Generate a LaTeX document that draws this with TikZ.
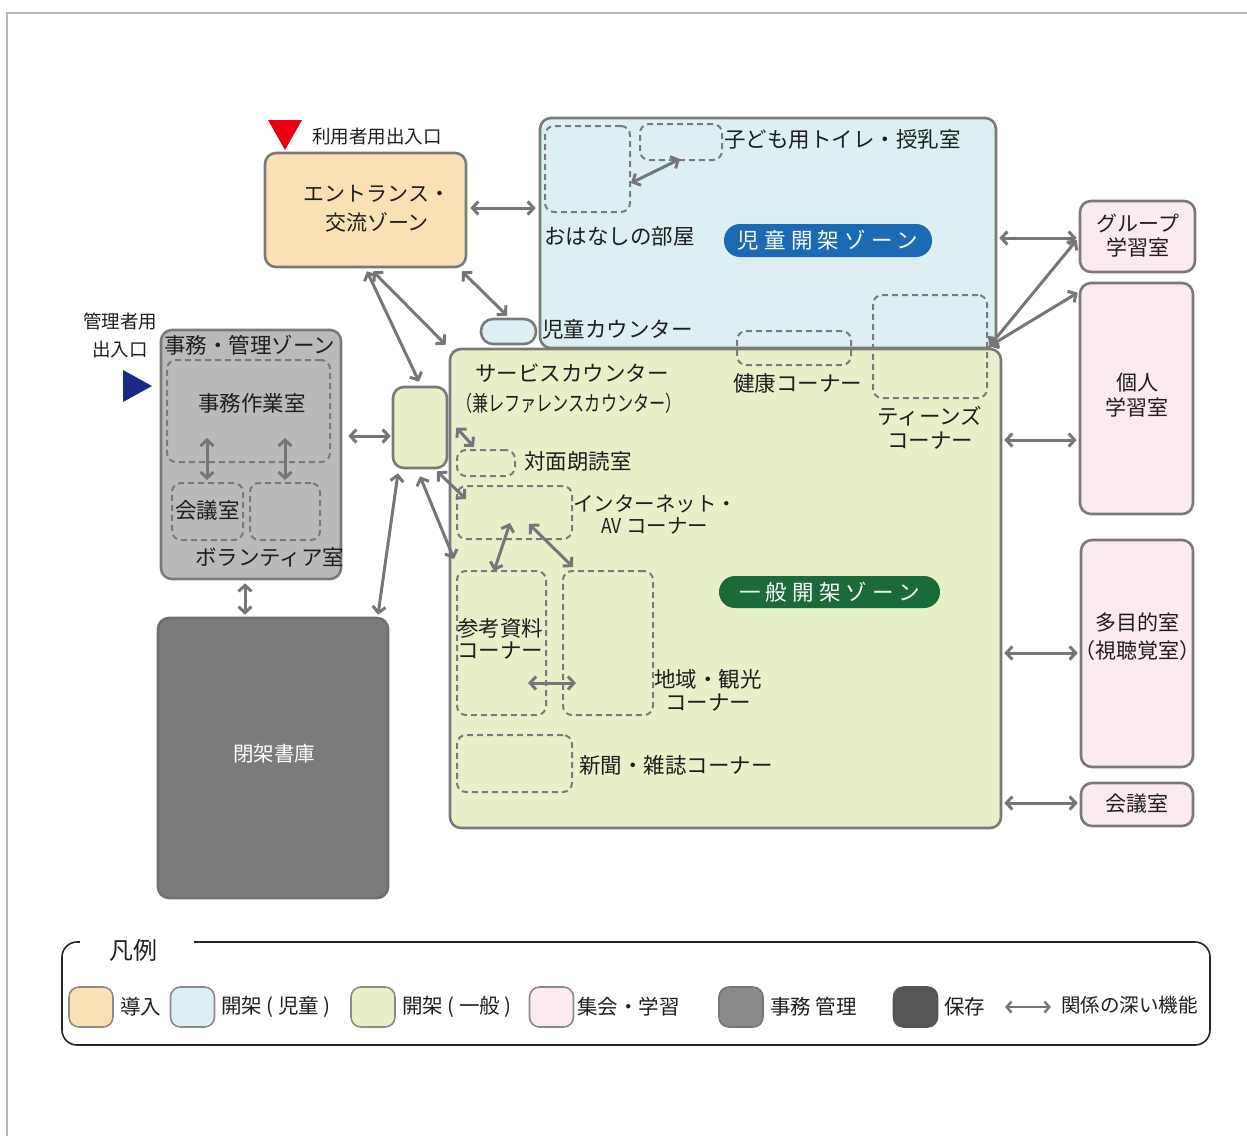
\documentclass[tikz,border=0pt]{standalone}
\usepackage{fontspec}
\setmainfont{Noto Sans CJK JP}
\usetikzlibrary{arrows.meta,calc}
\definecolor{peach}{HTML}{FAE1B5}
\definecolor{kidblue}{HTML}{DDEFF3}
\definecolor{genlime}{HTML}{E8F0CA}
\definecolor{pinkish}{HTML}{FCEAF1}
\definecolor{offgray}{HTML}{BABABA}
\definecolor{stkgray}{HTML}{7B7B7B}
\definecolor{bordergray}{HTML}{7A7A7A}
\definecolor{arrgray}{HTML}{767676}
\definecolor{pillblue}{HTML}{1A6AB4}
\definecolor{pillgreen}{HTML}{1B6B38}
\definecolor{navytri}{HTML}{1C2A85}
\definecolor{redtri}{HTML}{E60012}
\definecolor{txt}{HTML}{1E1E1E}
\definecolor{legmid}{HTML}{8A8A8A}
\definecolor{legdark}{HTML}{555555}
\newcommand\fsz[2]{\fontsize{#1pt}{#2pt}\selectfont}
\tikzset{
  zone/.style={draw=bordergray, line width=2.6pt, rounded corners=11pt, inner sep=0pt},
  dbox/.style={draw=bordergray, line width=2pt, dash pattern=on 6pt off 4pt, rounded corners=9pt, inner sep=0pt},
  arr/.style={draw=arrgray, line width=3pt, {Straight Barb[length=6pt,width=13pt]}-{Straight Barb[length=6pt,width=13pt]}},
  lbl/.style={text=txt, inner sep=0pt, font=\fsz{21.5}{25}},
  pill/.style={rounded corners=16pt, inner sep=0pt, text=white, font=\fsz{21.5}{25}\addfontfeature{LetterSpace=24}},
  swatch/.style={draw=legmid, line width=1.6pt, rounded corners=10pt, minimum width=44, minimum height=40, inner sep=0pt},
  leg/.style={text=txt, inner sep=0pt, anchor=west, font=\fsz{20.5}{24}},
}
\begin{document}
\begin{tikzpicture}[x=1pt,y=-1pt]
\useasboundingbox (0,0) rectangle (1247,1136);
% outer frame
\draw[color=black!28, line width=1.3pt] (7,1136) -- (7,13) -- (1247,13);

% entrance markers
\fill[redtri] (268,120) -- (302,120) -- (285,150) -- cycle;
\node[lbl, anchor=west, font=\fsz{18.5}{22}] (uentl) at (312,137) {利用者用出入口};
\fill[navytri] (123,370) -- (152,386) -- (123,402) -- cycle;
\node[lbl, align=center, font=\fsz{18.5}{28}] (aentl) at (120,335) {管理者用\\出入口};

% zones
\node[zone, fill=peach, minimum width=201, minimum height=114] (ent) at (365.5,210) {};
\node[lbl, align=center, font=\fsz{21}{29}] (entl) at (377,209) {エントランス・\\交流ゾーン};

\node[zone, fill=kidblue, minimum width=456, minimum height=230] (kid) at (768,233) {};
\node[zone, fill=genlime, minimum width=551, minimum height=479] (gen) at (725.5,588.5) {};
\node[zone, fill=kidblue, minimum width=55, minimum height=25, rounded corners=12pt] (kc) at (508.5,331.5) {};
\node[zone, fill=genlime, minimum width=54, minimum height=81] (svc) at (420,427.5) {};
\node[zone, fill=offgray, minimum width=180, minimum height=249] (off) at (251,454.5) {};
\node[zone, draw=stkgray!90!black, fill=stkgray, minimum width=230, minimum height=280] (stk) at (273,758) {};
\node[lbl, text=white, font=\fsz{20.5}{24}] (stkl) at (274,754) {閉架書庫};

% right rooms
\node[zone, fill=pinkish, minimum width=115, minimum height=71] (grp) at (1137.5,236.5) {};
\node[lbl, align=center, font=\fsz{21}{24}] (grpl) at (1138,236) {グループ\\学習室};
\node[zone, fill=pinkish, minimum width=113, minimum height=231] (ind) at (1136.5,398.5) {};
\node[lbl, align=center, font=\fsz{21}{25}] (indl) at (1137,395) {個人\\学習室};
\node[zone, fill=pinkish, minimum width=112, minimum height=227] (mul) at (1137,653.5) {};
\node[lbl, align=center, font=\fsz{21}{28}] (mull) at (1137,637) {多目的室\\（視聴覚室）};
\node[zone, fill=pinkish, minimum width=112, minimum height=43] (mtg) at (1137,804.5) {};
\node[lbl, font=\fsz{21}{24}] (mtgl) at (1137,804) {会議室};

% dashed sub-areas
\node[dbox, minimum width=85, minimum height=86] (oh) at (587.5,169) {};
\node[dbox, minimum width=82, minimum height=36] (toi) at (681,142) {};
\node[dbox, minimum width=114, minimum height=34] (hlt) at (794,348) {};
\node[dbox, minimum width=114, minimum height=103] (tee) at (930,346.5) {};
\node[dbox, minimum width=58, minimum height=26] (tai) at (486,463) {};
\node[dbox, minimum width=115, minimum height=53] (int) at (514.5,512.5) {};
\node[dbox, minimum width=89, minimum height=144] (ref) at (501.5,643) {};
\node[dbox, minimum width=90, minimum height=144] (loc) at (608,643) {};
\node[dbox, minimum width=115, minimum height=57] (news) at (514.5,763.5) {};
\node[dbox, minimum width=163, minimum height=102] (jimu) at (248.5,411) {};
\node[dbox, minimum width=71, minimum height=57] (kaigi) at (207.5,511.5) {};
\node[dbox, minimum width=70, minimum height=57] (vol) at (285,511.5) {};

% pills
\node[pill, fill=pillblue, minimum width=208, minimum height=33] (kpill) at (828,240.5) {児童開架ゾーン};
\node[pill, fill=pillgreen, minimum width=221, minimum height=32] (gpill) at (829.5,592) {一般開架ゾーン};

% labels
\node[lbl, anchor=west] (toil) at (724,139) {子ども用トイレ・授乳室};
\node[lbl, anchor=west] (ohl) at (544,236) {おはなしの部屋};
\node[lbl, anchor=west] (kcl) at (542,329) {児童カウンター};
\node[lbl, anchor=west] (svcl) at (475,373) {サービスカウンター};
\node[lbl, anchor=west] (svcl2) at (456,403) {\scalebox{0.75}[1]{（兼レファレンスカウンター）}};
\node[lbl, anchor=west] (hltl) at (733,383) {健康コーナー};
\node[lbl, align=center, font=\fsz{21.5}{24}] (teel) at (930,428) {ティーンズ\\コーナー};
\node[lbl, anchor=west] (tail) at (524,461) {対面朗読室};
\node[lbl, align=center, font=\fsz{20.5}{22}] (intl) at (655,515) {インターネット・\\\scalebox{0.85}[1]{AV} コーナー};
\node[lbl, anchor=west, align=left, font=\fsz{21.5}{22}] (refl) at (457,639) {参考資料\\コーナー};
\node[lbl, align=center, font=\fsz{21.5}{23}] (locl) at (708,690) {地域・観光\\コーナー};
\node[lbl, anchor=west] (newsl) at (579,765) {新聞・雑誌コーナー};
\node[lbl, anchor=west] (offl) at (164,345) {事務・管理ゾーン};
\node[lbl] (jimul) at (252,403) {事務作業室};
\node[lbl, anchor=west] (kaigil) at (175,510) {会議室};
\node[lbl, anchor=west] (voll) at (195,557) {ボランティア室};

% connectors
\draw[arr] ($(ent.east)+(3,-2)$) -- ($(kid.west)+(-3,-25)$);
\draw[arr] ($(ent.south)+(96.5,3)$) -- ($(kc.north)+(-1.5,-2)$);
\draw[arr] ($(ent.south)+(7.5,3)$) -- ($(gen.north west)+(-3,-3)$);
\draw[arr] ($(ent.south)+(1.5,3)$) -- ($(svc.north)+(-1,-4)$);
\draw[arr] ($(off.east)+(6,-18.5)$) -- ($(svc.west)+(-1,8.5)$);
\draw[arr] ($(svc.south)+(-22,4)$) -- ($(stk.north)+(105,-2)$);
\draw[arr] ($(off.south)+(-6,3)$) -- ($(stk.north)+(-28,-2)$);
\draw[arr] ($(svc.south)+(17,2)$) -- ($(int.north west)+(10,14)$);
\draw[arr] ($(svc.south)+(0,7)$) -- ($(ref.north west)+(-2,-11)$);
\draw[arr] ($(svc.east)+(8,0)$) -- ($(tai.north west)+(18,-2)$);
\draw[arr] ($(oh.east)+(0,14)$) -- ($(toi.south)+(-1,-2)$);
\draw[arr] ($(int.south)+(-4.5,-17)$) -- ($(ref.north)+(-7.5,1)$);
\draw[arr] ($(int.south)+(14.5,-16)$) -- ($(loc.north west)+(11,-3)$);
\draw[arr] ($(ref.center)+(26.5,40)$) -- ($(loc.center)+(-32,40)$);
\draw[arr] ($(kid.east)+(2,5)$) -- ($(grp.west)+(-2,1.5)$);
\draw[arr] ($(kid.south east)+(-8,-3)$) -- ($(grp.west)+(-2,3.5)$);
\draw[arr] ($(kid.south east)+(-8,-3)$) -- ($(ind.north west)+(-1,11)$);
\draw[arr] ($(gen.east)+(2,-148.5)$) -- ($(ind.west)+(-2,41.5)$);
\draw[arr] ($(gen.east)+(2,64.5)$) -- ($(mul.west)+(-2,-0.5)$);
\draw[arr] ($(gen.east)+(2,214.5)$) -- ($(mtg.west)+(-2,-1.5)$);
\draw[arr] ($(jimu.south)+(-41.5,-25)$) -- ($(kaigi.north)+(-0.5,-2)$);
\draw[arr] ($(jimu.south)+(36.5,-25)$) -- ($(vol.north)+(0,-2)$);

% legend
\draw[draw=black!85, line width=1.6pt, rounded corners=15pt] (62,942) rectangle (1210,1045);
\node[fill=white, minimum width=114, minimum height=36, inner sep=0pt] (legbg) at (137,946) {};
\node[text=txt, inner sep=0pt, font=\fsz{24}{28}] (legt) at (133,950) {凡例};
\node[swatch, fill=peach] (s1) at (91,1007) {};
\node[leg] (t1) at (120,1007) {導入};
\node[swatch, fill=kidblue] (s2) at (192.5,1007) {};
\node[leg] (t2) at (221,1007) {開架 ( 児童 )};
\node[swatch, fill=genlime] (s3) at (373,1007) {};
\node[leg] (t3) at (402,1007) {開架 ( 一般 )};
\node[swatch, fill=pinkish] (s4) at (551.5,1007) {};
\node[leg] (t4) at (577,1007) {集会・学習};
\node[swatch, fill=legmid, draw=legmid!85!black] (s5) at (741,1007) {};
\node[leg] (t5) at (770,1007) {事務 管理};
\node[swatch, fill=legdark, draw=legdark] (s6) at (915.5,1007) {};
\node[leg] (t6) at (944,1007) {保存};
\coordinate (la) at (1005,1007);
\coordinate (lb) at (1051,1007);
\draw[draw=arrgray, line width=2.4pt, {Straight Barb[length=5pt,width=11pt]}-{Straight Barb[length=5pt,width=11pt]}] (la) -- (lb);
\node[leg, font=\fsz{19.5}{23}] (t7) at (1061,1005) {関係の深い機能};
\end{tikzpicture}
\end{document}
